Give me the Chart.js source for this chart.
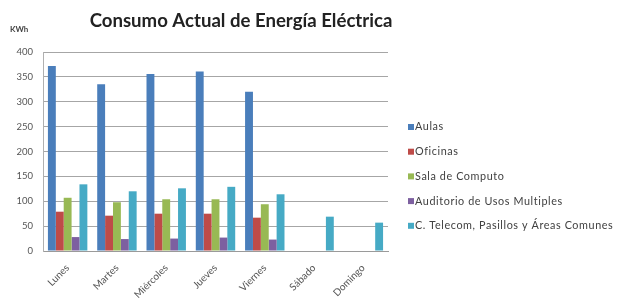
<!DOCTYPE html>
<html>
<head>
<meta charset="utf-8">
<script src="https://cdn.jsdelivr.net/npm/chart.js@4.4.0/dist/chart.umd.min.js"></script>
<style>
  html, body { margin: 0; padding: 0; background: #fff; }
  #wrap { width: 619px; height: 301px; position: relative; }
</style>
</head>
<body>
<div id="wrap"><canvas id="energyChart"></canvas></div>
<script>
const days = ['Lunes', 'Martes', 'Miércoles', 'Jueves', 'Viernes', 'Sábado', 'Domingo'];
const aulas = [372, 335, 356, 361, 320, 0, 0];
const oficinas = [79, 71, 75, 75, 67, 0, 0];
const salaComputo = [107, 98, 104, 104, 94, 0, 0];
const auditorio = [28, 24, 25, 27, 23, 0, 0];
const telecom = [134, 120, 126, 129, 114, 69, 57];
const yTicks = [0, 50, 100, 150, 200, 250, 300, 350, 400];

const seriesNames = ['Aulas', 'Oficinas', 'Sala de Computo', 'Auditorio de Usos Multiples', 'C. Telecom, Pasillos y Áreas Comunes'];
const seriesColors = ['#4a7ebb', '#be4b48', '#98b954', '#7d60a0', '#46aac5'];
const seriesData = [aulas, oficinas, salaComputo, auditorio, telecom];

const FONT = 'Lato, "Liberation Sans", sans-serif';

// title, unit label and legend drawn on the canvas
const decorations = {
  id: 'decorations',
  afterDraw(chart) {
    const ctx = chart.ctx;
    ctx.save();
    ctx.fillStyle = '#222';
    ctx.font = 'bold 18.6px ' + FONT;
    ctx.textAlign = 'center';
    ctx.textBaseline = 'middle';
    ctx.fillText('Consumo Actual de Energía Eléctrica', 241, 21);

    ctx.fillStyle = '#444';
    ctx.font = 'bold 8px ' + FONT;
    ctx.textAlign = 'left';
    ctx.fillText('KWh', 10, 29);

    ctx.font = '10.8px ' + FONT;
    ctx.letterSpacing = '0.6px';
    chart.data.datasets.forEach((ds, i) => {
      const y = 127 + i * 24.7;
      ctx.fillStyle = ds.backgroundColor;
      ctx.fillRect(408, y - 3, 6, 6);
      ctx.fillStyle = '#404040';
      ctx.fillText(ds.label, 415, y);
    });
    ctx.restore();
  }
};

new Chart(document.getElementById('energyChart'), {
  type: 'bar',
  data: {
    labels: days,
    datasets: seriesNames.map((name, i) => ({
      label: name,
      data: seriesData[i],
      backgroundColor: seriesColors[i],
      categoryPercentage: 0.8,
      barPercentage: 1
    }))
  },
  plugins: [decorations],
  options: {
    responsive: true,
    maintainAspectRatio: false,
    animation: false,
    layout: { padding: { top: 52, right: 231, left: 0, bottom: 0 } },
    plugins: {
      legend: { display: false },
      title: { display: false },
      tooltip: { enabled: false }
    },
    scales: {
      x: {
        grid: { display: false },
        border: { display: true, color: '#9a9a9a' },
        ticks: {
          color: '#555',
          font: { family: FONT, size: 10 },
          minRotation: 45,
          maxRotation: 45,
          autoSkip: false
        },
        afterFit(scale) { scale.height = 50; }
      },
      y: {
        min: 0,
        max: 400,
        afterBuildTicks(scale) { scale.ticks = yTicks.map(v => ({ value: v })); },
        grid: { color: '#a6a6a6', drawTicks: false },
        border: { display: true, color: '#b0b0b0' },
        ticks: {
          color: '#555',
          font: { family: FONT, size: 9.5 },
          padding: 10
        },
        afterFit(scale) { scale.width = 43; }
      }
    }
  }
});
</script>
</body>
</html>
